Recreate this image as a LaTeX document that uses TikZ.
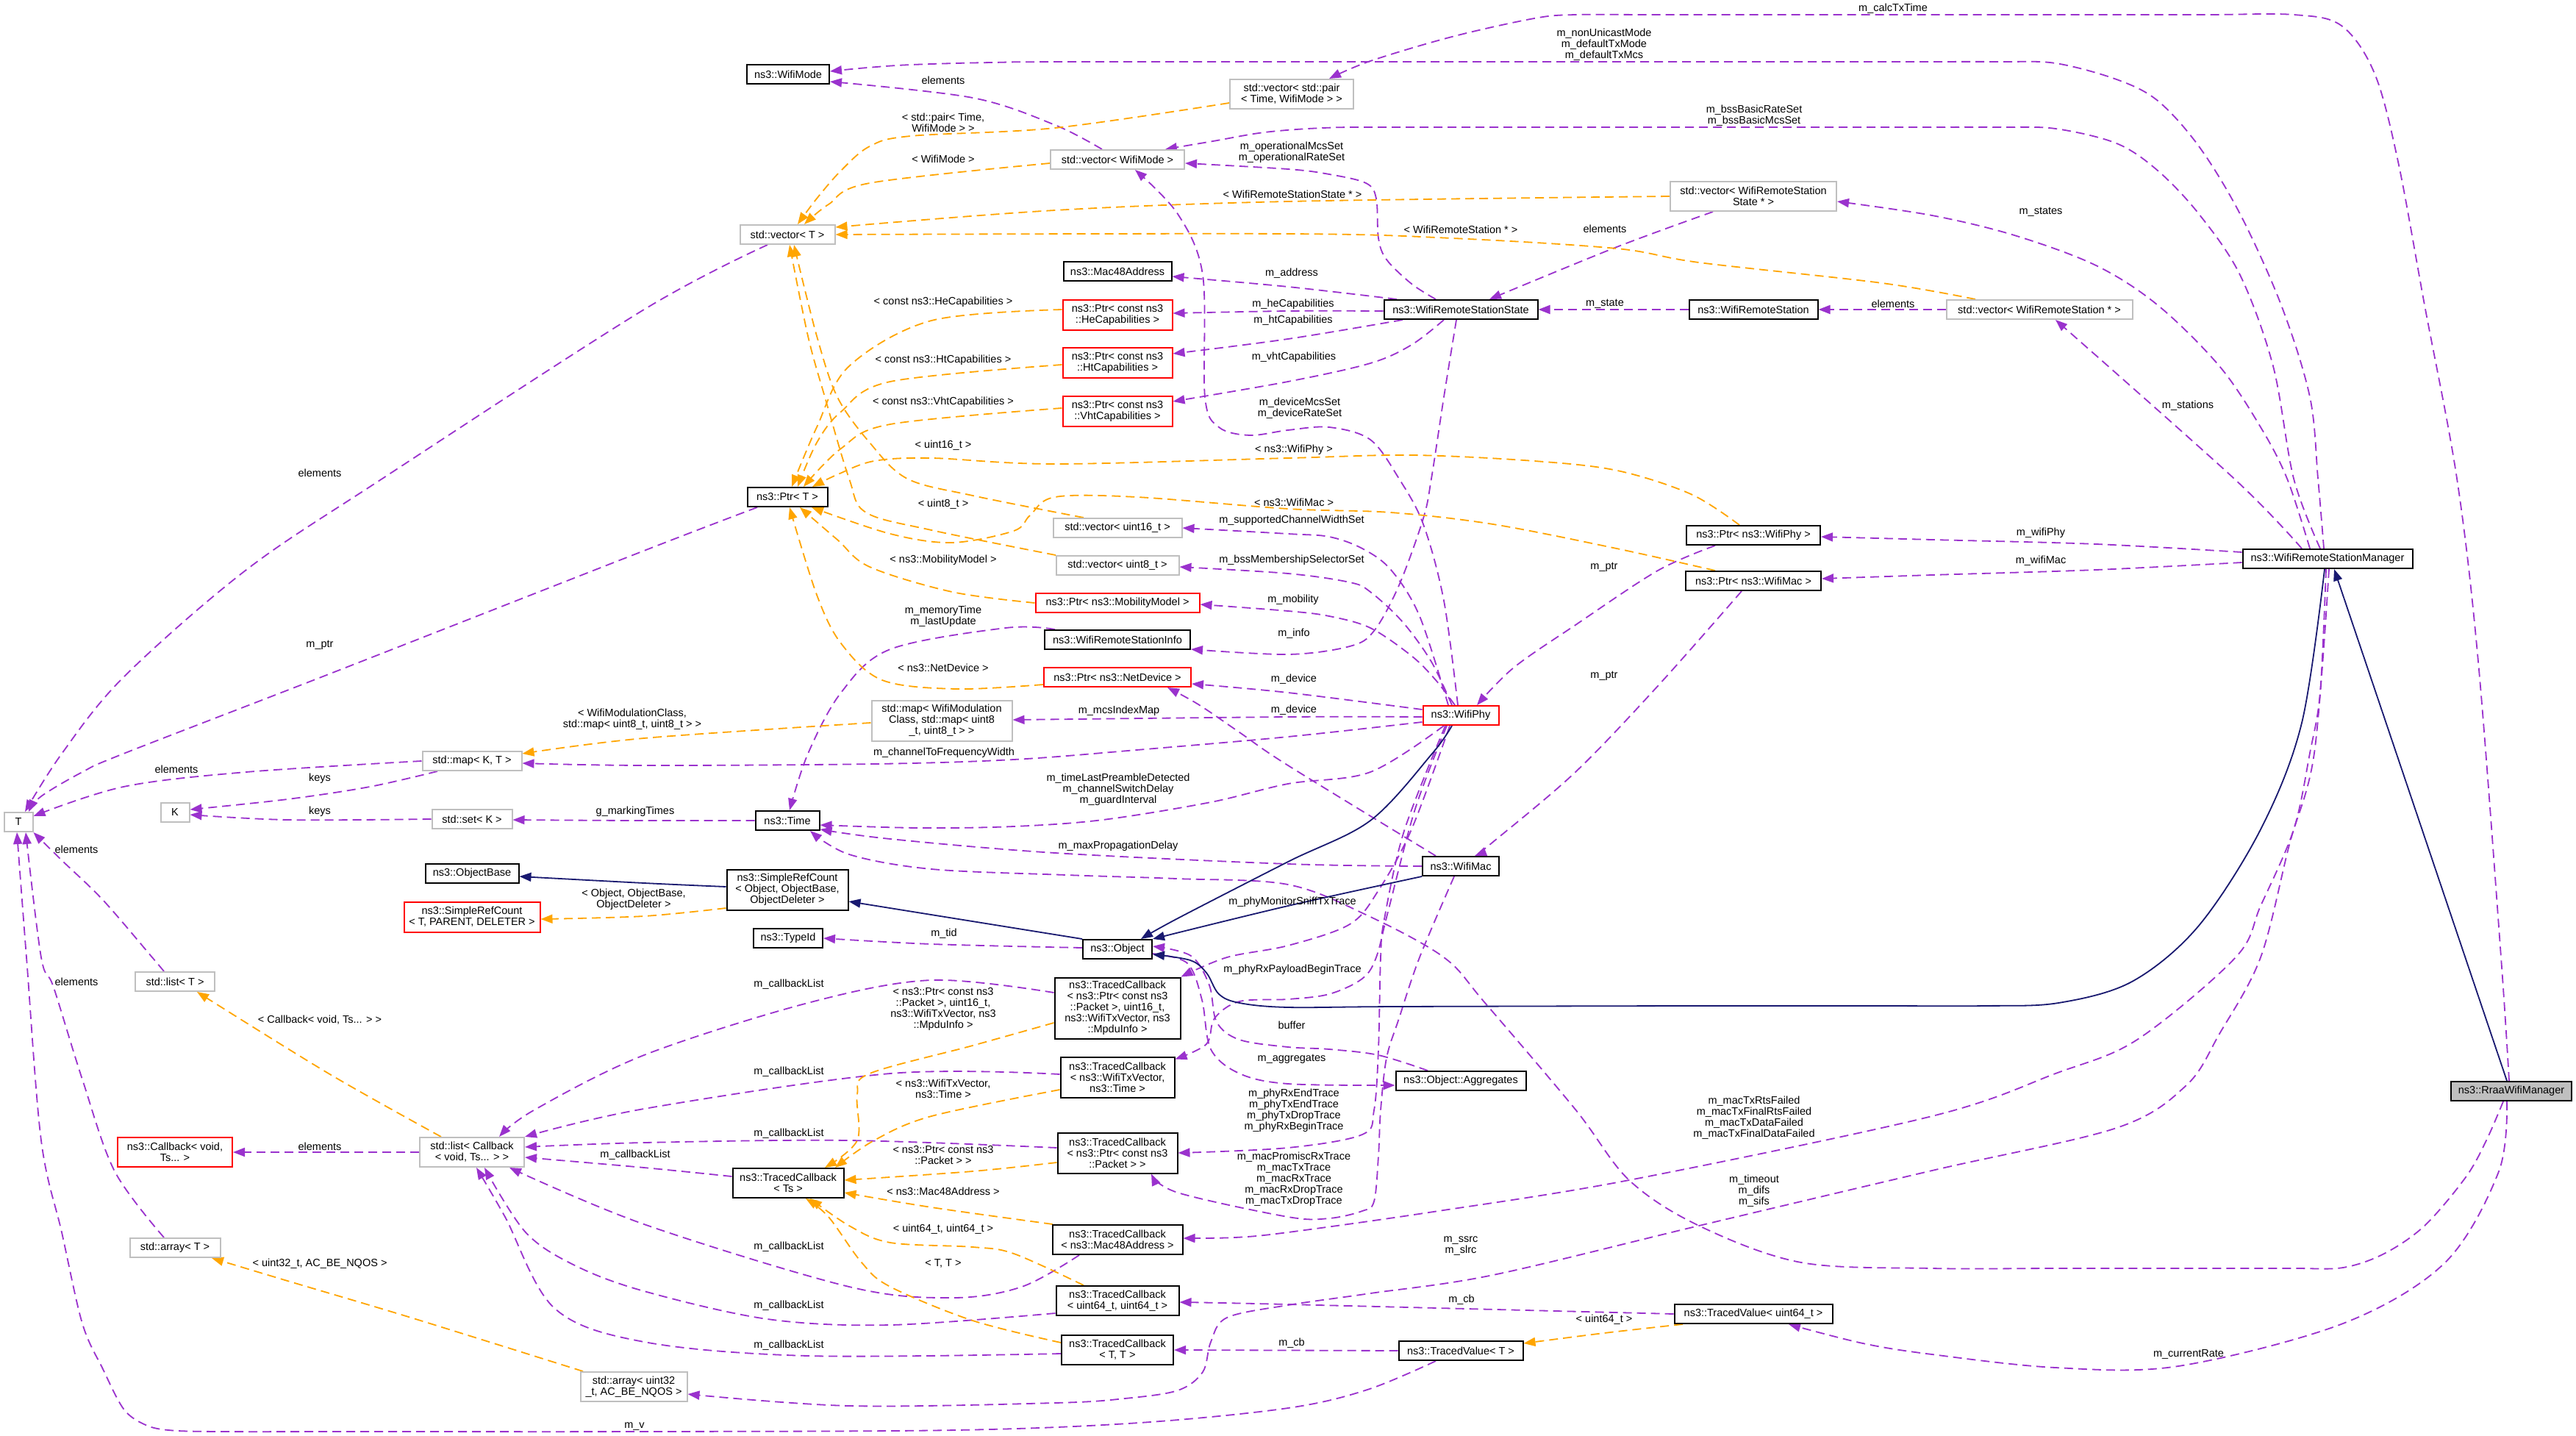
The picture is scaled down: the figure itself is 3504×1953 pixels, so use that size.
\documentclass[tikz,border=0pt]{standalone}
\usepackage{fontspec}
\setmainfont{Liberation Sans}
\usetikzlibrary{arrows.meta}
\pgfdeclarelayer{back}
\pgfdeclarelayer{bg}
\pgfsetlayers{back,bg,main}
\definecolor{purp}{HTML}{9A32CD}
\definecolor{orng}{HTML}{FFA500}
\definecolor{mblue}{HTML}{191970}
\definecolor{grayb}{HTML}{BFBFBF}
\definecolor{redb}{HTML}{FF0000}
\newcommand\dfont{\fontsize{14.5}{15}\selectfont}
\newcommand\nd[6]{\node[#1,minimum width=#4pt,minimum height=#5pt] (#2) at (#3) {#6};}
\newcommand\ed[2]{\draw[#1] plot[smooth,tension=0.55] coordinates {#2};}
\newcommand\lb[3]{\node[lab] (#1) at (#2) {#3};}
\begin{document}
\begin{tikzpicture}[x=1pt,y=-1pt,
  box/.style={draw=black,line width=2pt,inner sep=0pt,align=center,fill=white,font=\dfont},
  gbox/.style={box,draw=grayb},
  rbox/.style={box,draw=redb},
  lab/.style={inner sep=0pt,align=center,font=\dfont},
  use/.style={draw=purp,line width=1.8pt,dash pattern=on 12pt off 7pt,-{Triangle[length=16pt,width=12pt]}},
  tpl/.style={use,draw=orng},
  inh/.style={draw=mblue,line width=1.8pt,-{Triangle[length=16pt,width=12pt]}}]
\begin{pgfonlayer}{back}
\fill[white] (0,0) rectangle (3504,1953);
\end{pgfonlayer}
\useasboundingbox (0,0) rectangle (3504,1953);
% nodes
\nd{box}{WM}{1072,101}{112}{26}{ns3::WifiMode}
\nd{gbox}{VP}{1757,128}{168}{40}{std::vector< std::pair\\< Time, WifiMode > >}
\nd{gbox}{VWM}{1520,217}{182}{26}{std::vector< WifiMode >}
\nd{gbox}{VT}{1071,319}{129}{26}{std::vector< T >}
\nd{box}{MAC}{1520,369}{147}{26}{ns3::Mac48Address}
\nd{rbox}{HE}{1520,428}{149}{41}{ns3::Ptr< const ns3\\::HeCapabilities >}
\nd{rbox}{HT}{1520,493}{149}{41}{ns3::Ptr< const ns3\\::HtCapabilities >}
\nd{rbox}{VHT}{1520,559}{149}{41}{ns3::Ptr< const ns3\\::VhtCapabilities >}
\nd{gbox}{VWRSS}{2385,267}{226}{40}{std::vector< WifiRemoteStation\\State * >}
\nd{box}{WRSS}{1987,421}{209}{26}{ns3::WifiRemoteStationState}
\nd{box}{WRS}{2385,421}{175}{26}{ns3::WifiRemoteStation}
\nd{gbox}{VWRS}{2774,421}{253}{26}{std::vector< WifiRemoteStation * >}
\nd{box}{MGR}{3166,760}{231}{26}{ns3::WifiRemoteStationManager}
\nd{box,fill=grayb}{RRAA}{3416,1484}{164}{26}{ns3::RraaWifiManager}
\nd{box}{PPHY}{2385,728}{182}{26}{ns3::Ptr< ns3::WifiPhy >}
\nd{box}{PMAC}{2385,790}{184}{26}{ns3::Ptr< ns3::WifiMac >}
\nd{rbox}{PHY}{1987,973}{103}{26}{ns3::WifiPhy}
\nd{box}{MACC}{1987,1178}{104}{26}{ns3::WifiMac}
\nd{box}{PT}{1071,676}{109}{26}{ns3::Ptr< T >}
\nd{gbox}{V16}{1520,718}{175}{26}{std::vector< uint16\_t >}
\nd{gbox}{V8}{1520,769}{167}{26}{std::vector< uint8\_t >}
\nd{rbox}{MOB}{1520,820}{223}{26}{ns3::Ptr< ns3::MobilityModel >}
\nd{box}{INFO}{1520,870}{198}{26}{ns3::WifiRemoteStationInfo}
\nd{rbox}{ND}{1520,921}{200}{26}{ns3::Ptr< ns3::NetDevice >}
\nd{gbox}{MWMC}{1281,980}{191}{55}{std::map< WifiModulation\\Class, std::map< uint8\\\_t, uint8\_t > >}
\nd{box}{TIME}{1071,1116}{87}{26}{ns3::Time}
\nd{box}{SRCO}{1071,1210}{165}{55}{ns3::SimpleRefCount\\< Object, ObjectBase,\\ObjectDeleter >}
\nd{box}{TID}{1072,1276}{94}{26}{ns3::TypeId}
\nd{box}{OBJ}{1520,1291}{94}{26}{ns3::Object}
\nd{gbox}{T}{25,1118}{39}{26}{T}
\nd{gbox}{K}{238,1105}{39}{26}{K}
\nd{gbox}{MKT}{642,1035}{135}{26}{std::map< K, T >}
\nd{gbox}{SK}{642,1114}{109}{26}{std::set< K >}
\nd{box}{OB}{642,1188}{127}{26}{ns3::ObjectBase}
\nd{rbox}{SRCT}{642,1247}{185}{41}{ns3::SimpleRefCount\\< T, PARENT, DELETER >}
\nd{gbox}{LT}{238,1335}{108}{26}{std::list< T >}
\nd{rbox}{CB}{238,1567}{156}{40}{ns3::Callback< void,\\Ts... >}
\nd{gbox}{LCB}{642,1567}{142}{40}{std::list< Callback\\< void, Ts... > >}
\nd{gbox}{AT}{238,1697}{123}{26}{std::array< T >}
\nd{gbox}{AU}{862,1886}{145}{40}{std::array< uint32\\\_t, AC\_BE\_NQOS >}
\nd{box}{TC5}{1520,1371}{171}{83}{ns3::TracedCallback\\< ns3::Ptr< const ns3\\::Packet >, uint16\_t,\\ ns3::WifiTxVector, ns3\\::MpduInfo >}
\nd{box}{TC3}{1520,1465}{155}{55}{ns3::TracedCallback\\< ns3::WifiTxVector,\\ns3::Time >}
\nd{box}{TCP}{1520,1568}{163}{55}{ns3::TracedCallback\\< ns3::Ptr< const ns3\\::Packet > >}
\nd{box}{TCTS}{1072,1609}{151}{40}{ns3::TracedCallback\\< Ts >}
\nd{box}{TCM}{1520,1686}{177}{40}{ns3::TracedCallback\\< ns3::Mac48Address >}
\nd{box}{TCU}{1520,1769}{167}{40}{ns3::TracedCallback\\< uint64\_t, uint64\_t >}
\nd{box}{TCT}{1520,1836}{152}{40}{ns3::TracedCallback\\< T, T >}
\nd{box}{AGG}{1987,1470}{177}{26}{ns3::Object::Aggregates}
\nd{box}{TVU}{2385,1787}{215}{26}{ns3::TracedValue< uint64\_t >}
\nd{box}{TVT}{1987,1837}{169}{26}{ns3::TracedValue< T >}
% edges
\begin{pgfonlayer}{bg}
\ed{use}{([xshift=-3]RRAA.north) (3402,1302) (3371,900) (3342,651) (3298,415) (3262,220) (3230,100) (3185,35) (3120,20) (3000,20) (2800,20) (2500,20) (2250,20) (2143,20) (2087,25) (1975,50) (1864,83) ([xshift=51]VP.north)}
\ed{use}{([xshift=-5]MGR.north) (3153,651) (3142,540) (3103,415) (3047,291) (2991,199) (2935,137) (2879,108) (2796,86) (2720,84) (2600,84) (2400,84) (1500,84) (1350,85) (1240,88) (1180,92) ([yshift=4]WM.east)}
\ed{use}{([xshift=-10]MGR.north) (3120,651) (3092,498) (3047,374) (2991,291) (2935,232) (2879,195) (2796,175) (2720,173) (2600,173) (2400,173) (1900,173) (1800,174) (1720,180) (1650,192) ([xshift=65]VWM.north)}
\ed{use}{([xshift=-24]MGR.north) (3111,651) (3075,581) (3019,498) (2935,415) (2851,361) (2740,320) (2628,293) ([yshift=-7]VWRSS.east)}
\ed{use}{([xshift=-35]MGR.north) (3039,651) ([xshift=22]VWRS.south)}
\ed{use}{([xshift=-55]VWRSS.south) (2199,336) ([xshift=39]WRSS.north)}
\ed{use}{([yshift=9]MGR.west) (2851,740) (2628,734) ([yshift=-2]PPHY.east)}
\ed{use}{([yshift=-5]MGR.west) (2851,775) (2628,782) ([yshift=3]PMAC.east)}
\ed{use}{(WRS.west) (WRSS.east)}
\ed{use}{(VWRS.west) (WRS.east)}
\ed{use}{([xshift=-34]WRSS.north) (1920,386) (1886,353) (1875,324) (1872,270) (1858,249) (1808,237) (1752,230) ([yshift=-5]VWM.east)}
\ed{use}{([xshift=-87]WRSS.north) (1752,390) ([yshift=-7]MAC.east)}
\ed{use}{([yshift=-2]WRSS.west) (1752,423) ([yshift=2]HE.east)}
\ed{use}{([xshift=-79]WRSS.south) (1752,461) ([yshift=12]HT.east)}
\ed{use}{([xshift=-23]WRSS.south) (1920,469) (1864,494) (1752,519) ([yshift=13]VHT.east)}
\ed{use}{([xshift=-4]PHY.north) (1964,817) (1936,713) (1903,651) (1864,598) (1808,581) (1752,585) (1700,592) (1658,581) (1639,540) (1636,374) (1602,291) ([xshift=24]VWM.south)}
\ed{use}{([xshift=-6]WRSS.south) (1964,540) (1947,651) (1936,705) (1903,796) (1869,858) (1836,879) (1752,890) ([yshift=-13]INFO.east)}
\ed{use}{([xshift=-17]PHY.north) (1931,838) (1892,775) (1853,746) (1808,730) (1752,726) (V16.east)}
\ed{use}{([xshift=-12]PHY.north) (1947,900) (1908,846) (1864,805) (1836,792) (1752,780) ([yshift=-2]V8.east)}
\ed{use}{([xshift=-8]PHY.north) (1953,925) (1920,892) (1864,854) (1808,838) (1752,831) ([yshift=-2]MOB.east)}
\ed{use}{([yshift=8]PHY.west) (1752,942) ([yshift=-9]ND.east)}
\ed{use}{([xshift=-34]MACC.north) (1752,1041) (1686,996) (1630,958) ([xshift=68]ND.south)}
\ed{use}{([yshift=-2]PHY.west) (1752,975) ([yshift=1]MWMC.east)}
\ed{use}{([yshift=-9]PHY.west) (1752,1002) (1546,1020) (1379,1033) (1189,1039) (876,1041) ([yshift=-3]MKT.east)}
\ed{use}{([xshift=-23]PHY.south) (1864,1050) (1752,1066) (1647,1091) (1500,1115) (1379,1124) (1250,1126) ([yshift=-6]TIME.east)}
\ed{use}{(MACC.west) (1752,1175) (1435,1160) (1211,1141) (TIME.-15)}
\ed{use}{([xshift=-11]RRAA.south) (3382,1551) (3354,1601) (3298,1667) (3243,1705) (3187,1724) (3120,1725) (3000,1725) (2800,1725) (2628,1725) (2450,1717) (2311,1667) (2216,1605) (2143,1509) (2020,1364) (1964,1302) (1860,1245) (1752,1203) (1600,1195) (1450,1190) (1267,1182) (1155,1162) ([xshift=31]TIME.south)}
\ed{use}{([xshift=-85]INFO.north) (1368,854) (1211,883) (1144,942) (1099,1025) ([xshift=3]TIME.north)}
\ed{use}{(SK.west) (391,1115) ([yshift=-3]K.east)}
\ed{use}{([xshift=-47]MKT.south) (503,1070) (391,1087) ([yshift=4]K.east)}
\ed{use}{(MKT.west) (335,1050) (168,1070) ([yshift=8]T.east)}
\ed{use}{(TIME.west) (864,1116) ([yshift=-1]SK.east)}
\ed{use}{([xshift=-41]PT.south) (876,749) (447,917) (168,1025) (112,1050) (56,1083) ([xshift=14]T.north)}
\ed{use}{([xshift=-27]VT.south) (876,421) (520,651) (335,775) (168,921) (84,1025) ([xshift=9]T.north)}
\ed{use}{([xshift=-15]LT.north) (207,1302) (140,1224) (84,1170) (T.south east)}
\ed{use}{([xshift=-15]AT.north) (156,1593) (112,1468) (73,1343) (56,1302) ([xshift=10]T.south)}
\ed{use}{([xshift=-34]TVT.south) (1860,1890) (1752,1915) (1550,1935) (1300,1945) (876,1947) (500,1947) (300,1947) (229,1945) (196,1937) (168,1916) (140,1862) (112,1800) (84,1676) (56,1551) (36,1302) ([xshift=-2]T.south)}
\ed{use}{([xshift=-52]PPHY.south) (2255,776) (2143,850) (2059,908) ([xshift=22]PHY.north)}
\ed{use}{([xshift=-16]PMAC.south) (2255,933) (2143,1050) (2031,1145) ([xshift=19]MACC.north)}
\ed{use}{([yshift=2]OBJ.west) (1267,1284) (TID.east)}
\ed{use}{([yshift=-6]OBJ.east) (1615,1310) (1635,1360) (1647,1427) (1686,1460) (1752,1474) ([yshift=-6]AGG.west)}
\ed{use}{([xshift=-45]AGG.north) (1875,1435) (1808,1427) (1752,1424) (1686,1414) (1655,1390) (1645,1340) (1620,1300) ([yshift=4]OBJ.east)}
\ed{use}{([xshift=-15]PHY.south) (1920,1128) (1875,1211) (1836,1257) (1752,1286) (1669,1302) (TC5.north east)}
\ed{use}{([xshift=-19]PHY.south) (1925,1100) (1888,1240) (1872,1302) (1853,1331) (1808,1352) (1752,1359) (1686,1362) (1652,1385) (1641,1420) ([yshift=-4]TC3.north east)}
\ed{use}{([xshift=-21]PHY.south) (1910,1130) (1883,1250) (1878,1302) (1875,1427) (1869,1510) (1853,1543) (1752,1561) (TCP.east)}
\ed{use}{([xshift=-9]MACC.south) (1931,1302) (1903,1385) (1886,1439) (1878,1510) (1875,1572) (1869,1634) (1853,1647) (1808,1657) (1752,1655) (1602,1622) ([xshift=46]TCP.south)}
\ed{use}{([xshift=-2]MGR.south) (3156,941) (3142,1024) (3120,1128) (3075,1232) (3041,1302) (2907,1414) (2796,1460) (2628,1518) (2216,1605) (1950,1648) (1752,1676) (1680,1683) ([yshift=2]TCM.east)}
\ed{use}{([xshift=2]MGR.south) (3148,1024) (3114,1149) (3075,1302) (3019,1406) (2974,1476) (2879,1534) (2628,1592) (2311,1667) (2031,1734) (1864,1759) (1752,1775) (1669,1792) (1647,1825) (1636,1866) (1602,1891) (1530,1902) (1435,1908) (1155,1912) ([yshift=-10]AU.east)}
\ed{use}{(TVU.west) (1752,1774) ([yshift=-2]TCU.east)}
\ed{use}{(TVT.west) (TCT.east)}
\ed{use}{([xshift=-6]RRAA.south) (3399,1593) (3326,1717) (3187,1800) (2963,1858) (2796,1860) (2628,1842) (2534,1827) ([xshift=48]TVU.south)}
\ed{use}{([yshift=21]TC5.west) (1267,1333) (1099,1364) (876,1435) (726,1510) ([xshift=37]LCB.north)}
\ed{use}{([yshift=4]TC3.west) (1211,1460) (876,1508) (LCB.north east)}
\ed{use}{([yshift=7]TCP.west) (1155,1551) (876,1554) ([yshift=7]LCB.east)}
\ed{use}{([yshift=9]TCTS.west) (876,1588) ([yshift=-7]LCB.east)}
\ed{use}{([xshift=-52]TCM.south) (1390,1750) (1295,1765) (1155,1750) (876,1665) ([xshift=51]LCB.south)}
\ed{use}{([yshift=-17]TCU.west) (1211,1802) (1044,1794) (876,1756) (782,1721) (715,1676) ([xshift=17]LCB.south)}
\ed{use}{([yshift=-5]TCT.west) (1099,1844) (876,1825) (754,1779) (687,1655) ([xshift=6]LCB.south)}
\ed{use}{(LCB.west) (CB.east)}
\ed{use}{([xshift=-21]VWM.north) (1435,170) (1323,133) ([yshift=-10]WM.east)}
% templates
\ed{tpl}{([yshift=-12]VP.west) (1435,174) (1239,185) (1183,199) (1144,232) (1111,270) ([xshift=14]VT.north)}
\ed{tpl}{([yshift=-5]VWM.west) (1183,249) (1127,278) ([xshift=23]VT.north)}
\ed{tpl}{(VWRSS.west) (1752,274) (1435,286) ([yshift=10]VT.east)}
\ed{tpl}{([xshift=-87]VWRS.north) (2560,385) (2311,357) (2199,338) (1975,324) (1752,318) (VT.east)}
\ed{tpl}{([yshift=7]HE.west) (1267,436) (1155,498) (1111,581) ([xshift=6]PT.north)}
\ed{tpl}{([yshift=-3]HT.west) (1211,519) (1144,560) (1111,602) ([xshift=14]PT.north)}
\ed{tpl}{([yshift=4]VHT.west) (1211,577) (1144,610) ([xshift=22]PT.north)}
\ed{tpl}{([xshift=-19]PPHY.north) (2300,672) (2200,640) (2087,627) (1920,619) (1752,623) (1435,631) (1267,623) (1189,627) (1140,645) ([xshift=34]PT.north)}
\ed{tpl}{([xshift=-52]PMAC.north) (2199,746) (2031,713) (1892,697) (1752,692) (1546,676) (1435,676) (1401,701) (1379,722) (1295,738) (1211,726) ([xshift=33]PT.south)}
\ed{tpl}{([xshift=-46]V16.north) (1323,674) (1234,651) (1183,602) (1139,540) (1111,457) ([xshift=9]VT.south)}
\ed{tpl}{([xshift=-84]V8.north) (1267,721) (1178,697) (1155,651) (1122,540) (1099,457) ([xshift=3]VT.south)}
\ed{tpl}{(MOB.west) (1295,805) (1183,771) (1139,734) ([xshift=17]PT.south)}
\ed{tpl}{([yshift=-10]ND.west) (1301,937) (1200,925) (1144,875) (1111,809) ([xshift=3]PT.south)}
\ed{tpl}{([yshift=-3]MWMC.west) (876,1004) ([yshift=10]MKT.east)}
\ed{tpl}{([yshift=-25]SRCO.west) (876,1246) ([yshift=-3]SRCT.east)}
\ed{tpl}{([xshift=-42]LCB.north) (447,1460) ([xshift=30]LT.south)}
\ed{tpl}{([xshift=-69]AU.north) (559,1792) (391,1742) ([xshift=50]AT.south)}
\ed{tpl}{([yshift=-20]TC5.west) (1323,1422) (1183,1460) (1166,1489) (1166,1551) ([xshift=50]TCTS.north)}
\ed{tpl}{([yshift=-17]TC3.west) (1267,1518) (1189,1551) ([xshift=64]TCTS.north)}
\ed{tpl}{([yshift=-13]TCP.west) (1323,1593) ([yshift=4]TCTS.east)}
\ed{tpl}{([xshift=-88]TCM.north) (1267,1642) ([yshift=-13]TCTS.east)}
\ed{tpl}{([xshift=-46]TCU.north) (1379,1705) (1323,1696) (1211,1690) (1155,1667) ([xshift=30]TCTS.south)}
\ed{tpl}{([yshift=10]TCT.west) (1323,1796) (1211,1750) (1172,1717) (1127,1655) ([xshift=24]TCTS.south)}
\ed{tpl}{([xshift=-96]TVU.south) (2182,1813) ([yshift=10]TVT.east)}
% inheritance
\ed{inh}{([yshift=4]SRCO.west) (876,1201) ([yshift=-4]OB.east)}
\ed{inh}{(OBJ.north west) ([yshift=-16]SRCO.east)}
\ed{inh}{([xshift=-12]PHY.south) (1948,1025) (1864,1116) (1752,1172) (1602,1249) ([xshift=32]OBJ.north)}
\ed{inh}{(MACC.south west) (1752,1232) (OBJ.north east)}
\ed{inh}{([xshift=-4]MGR.south) (3131,983) (3075,1128) (2990,1260) (2900,1335) (2800,1364) (2700,1368) (2550,1368) (2300,1368) (1900,1369) (1752,1370) (1686,1364) (1658,1352) (1641,1323) (1619,1306) ([yshift=-7]OBJ.east)}
\ed{inh}{([xshift=-6]RRAA.north) ([xshift=9]MGR.south)}
\end{pgfonlayer}
% labels
\lb{a1}{2575,12}{m\_calcTxTime}
\lb{a2}{2182,61}{m\_nonUnicastMode\\m\_defaultTxMode\\m\_defaultTxMcs}
\lb{a3}{2386,157}{m\_bssBasicRateSet\\m\_bssBasicMcsSet}
\lb{a4}{1283,109}{elements}
\lb{a5}{1283,167}{< std::pair< Time,\\WifiMode > >}
\lb{a6}{1283,216}{< WifiMode >}
\lb{a7}{1757,207}{m\_operationalMcsSet\\m\_operationalRateSet}
\lb{a8}{1758,264}{< WifiRemoteStationState * >}
\lb{a9}{2183,311}{elements}
\lb{a10}{1987,312}{< WifiRemoteStation * >}
\lb{a11}{2776,288}{m\_states}
\lb{a12}{1757,372}{m\_address}
\lb{a13}{2183,413}{m\_state}
\lb{a14}{2575,413}{elements}
\lb{a15}{1759,414}{m\_heCapabilities}
\lb{a16}{1759,436}{m\_htCapabilities}
\lb{a17}{1760,486}{m\_vhtCapabilities}
\lb{a18}{1283,411}{< const ns3::HeCapabilities >}
\lb{a19}{1283,490}{< const ns3::HtCapabilities >}
\lb{a20}{1283,547}{< const ns3::VhtCapabilities >}
\lb{a21}{1768,555}{m\_deviceMcsSet\\m\_deviceRateSet}
\lb{a22}{2976,552}{m\_stations}
\lb{a23}{1283,606}{< uint16\_t >}
\lb{a24}{1760,612}{< ns3::WifiPhy >}
\lb{a25}{435,643}{elements}
\lb{a26}{1283,686}{< uint8\_t >}
\lb{a27}{1760,683}{< ns3::WifiMac >}
\lb{a28}{1757,708}{m\_supportedChannelWidthSet}
\lb{a29}{2776,725}{m\_wifiPhy}
\lb{a30}{1757,762}{m\_bssMembershipSelectorSet}
\lb{a31}{2776,763}{m\_wifiMac}
\lb{a32}{2182,771}{m\_ptr}
\lb{a33}{1283,762}{< ns3::MobilityModel >}
\lb{a34}{1759,816}{m\_mobility}
\lb{a35}{1283,838}{m\_memoryTime\\m\_lastUpdate}
\lb{a36}{1760,862}{m\_info}
\lb{a37}{435,877}{m\_ptr}
\lb{a38}{1283,908}{< ns3::NetDevice >}
\lb{a39}{2182,919}{m\_ptr}
\lb{a40}{1760,924}{m\_device}
\lb{a41}{1760,966}{m\_device}
\lb{a42}{1522,967}{m\_mcsIndexMap}
\lb{a43}{860,978}{< WifiModulationClass,\\std::map< uint8\_t, uint8\_t > >}
\lb{a44}{1284,1024}{m\_channelToFrequencyWidth}
\lb{a45}{240,1046}{elements}
\lb{a46}{435,1059}{keys}
\lb{a47}{1521,1074}{m\_timeLastPreambleDetected\\m\_channelSwitchDelay\\m\_guardInterval}
\lb{a48}{435,1104}{keys}
\lb{a49}{864,1104}{g\_markingTimes}
\lb{a50}{1521,1151}{m\_maxPropagationDelay}
\lb{a51}{104,1155}{elements}
\lb{a52}{862,1223}{< Object, ObjectBase,\\ObjectDeleter >}
\lb{a53}{1758,1227}{m\_phyMonitorSniffTxTrace}
\lb{a54}{1284,1270}{m\_tid}
\lb{a55}{1758,1319}{m\_phyRxPayloadBeginTrace}
\lb{a56}{104,1335}{elements}
\lb{a57}{1073,1339}{m\_callbackList}
\lb{a58}{1283,1372}{< ns3::Ptr< const ns3\\::Packet >, uint16\_t,\\ ns3::WifiTxVector, ns3\\::MpduInfo >}
\lb{a59}{435,1387}{< Callback< void, Ts... > >}
\lb{a60}{1757,1394}{buffer}
\lb{a61}{1757,1440}{m\_aggregates}
\lb{a62}{1073,1458}{m\_callbackList}
\lb{a63}{1283,1481}{< ns3::WifiTxVector,\\ns3::Time >}
\lb{a64}{1760,1510}{m\_phyRxEndTrace\\m\_phyTxEndTrace\\m\_phyTxDropTrace\\m\_phyRxBeginTrace}
\lb{a65}{2386,1520}{m\_macTxRtsFailed\\m\_macTxFinalRtsFailed\\m\_macTxDataFailed\\m\_macTxFinalDataFailed}
\lb{a66}{1073,1542}{m\_callbackList}
\lb{a67}{435,1559}{elements}
\lb{a68}{864,1571}{m\_callbackList}
\lb{a69}{1283,1571}{< ns3::Ptr< const ns3\\::Packet > >}
\lb{a70}{1760,1604}{m\_macPromiscRxTrace\\m\_macTxTrace\\m\_macRxTrace\\m\_macRxDropTrace\\m\_macTxDropTrace}
\lb{a71}{2386,1620}{m\_timeout\\m\_difs\\m\_sifs}
\lb{a72}{1283,1620}{< ns3::Mac48Address >}
\lb{a73}{1283,1672}{< uint64\_t, uint64\_t >}
\lb{a74}{1987,1695}{m\_ssrc\\m\_slrc}
\lb{a75}{1073,1696}{m\_callbackList}
\lb{a76}{1283,1718}{< T, T >}
\lb{a77}{435,1719}{< uint32\_t, AC\_BE\_NQOS >}
\lb{a78}{1073,1776}{m\_callbackList}
\lb{a79}{1988,1768}{m\_cb}
\lb{a80}{2182,1795}{< uint64\_t >}
\lb{a81}{1757,1827}{m\_cb}
\lb{a82}{1073,1830}{m\_callbackList}
\lb{a83}{2977,1842}{m\_currentRate}
\lb{a84}{863,1940}{m\_v}
\end{tikzpicture}
\end{document}
